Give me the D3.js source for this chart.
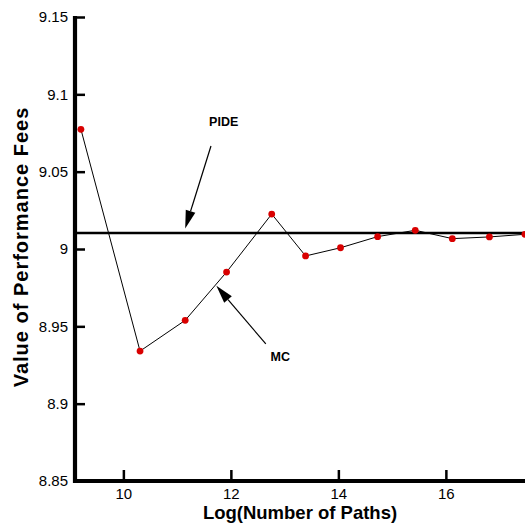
<!DOCTYPE html>
<html>
<head>
<meta charset="utf-8">
<script src="https://cdn.jsdelivr.net/npm/d3@7"></script>
<style>
  html, body { margin: 0; padding: 0; background: #fff; }
  svg { display: block; font-family: "Liberation Sans", Arial, sans-serif; }
</style>
</head>
<body>
<svg id="chart" width="525" height="529"></svg>
<script>
// Monte Carlo estimates against log of the number of simulated paths
const logPaths = [9.21, 10.31, 11.15, 11.92, 12.76, 13.39, 14.04, 14.73, 15.43, 16.12, 16.81, 17.47];
const mcValues = [9.0774, 8.9340, 8.9539, 8.9851, 9.0226, 8.9955, 9.0008, 9.0080, 9.0121, 9.0067, 9.0078, 9.0095];
// PIDE reference value
const pideValue = 9.0103;

const xTicks = [10, 12, 14, 16];
const yTicks = [8.85, 8.9, 8.95, 9, 9.05, 9.1, 9.15];
const yTickLabels = ["8.85", "8.9", "8.95", "9", "9.05", "9.1", "9.15"];

const svg = d3.select("#chart");

const x = d3.scaleLinear().domain([9.1, 17.5]).range([75, 526.5]);
const y = d3.scaleLinear().domain([8.85, 9.15]).range([481, 17]);

// PIDE horizontal line
svg.append("line")
  .attr("x1", x(9.1)).attr("x2", x(17.5))
  .attr("y1", y(pideValue)).attr("y2", y(pideValue))
  .attr("stroke", "#000").attr("stroke-width", 2.6);

// MC line and markers
const line = d3.line().x((d, i) => x(logPaths[i])).y(d => y(d));
svg.append("path")
  .datum(mcValues)
  .attr("d", line)
  .attr("fill", "none")
  .attr("stroke", "#000")
  .attr("stroke-width", 1);

svg.selectAll("circle.pt")
  .data(mcValues)
  .enter().append("circle")
  .attr("class", "pt")
  .attr("cx", (d, i) => x(logPaths[i]))
  .attr("cy", d => y(d))
  .attr("r", 3.4)
  .attr("fill", "#d90000");

// Axes
const xAxis = d3.axisBottom(x).tickValues(xTicks).tickSize(-11).tickPadding(7)
  .tickFormat(d3.format("d"));
const gx = svg.append("g").attr("transform", `translate(0,${y(8.85)})`).call(xAxis);
gx.select(".domain").remove();
gx.selectAll(".tick line").attr("stroke", "#000").attr("stroke-width", 2.5);
gx.selectAll(".tick text").attr("font-size", 15).attr("fill", "#000")
  .attr("font-family", "Liberation Sans, Arial, sans-serif");

const yAxis = d3.axisLeft(y).tickValues(yTicks).tickSize(-10).tickPadding(7)
  .tickFormat((d, i) => yTickLabels[i]);
const gy = svg.append("g").attr("transform", `translate(${x(9.1)},0)`).call(yAxis);
gy.select(".domain").remove();
gy.selectAll(".tick line").attr("stroke", "#000").attr("stroke-width", 2.5);
gy.selectAll(".tick text").attr("font-size", 15).attr("fill", "#000")
  .attr("font-family", "Liberation Sans, Arial, sans-serif");

// Thick axis frame lines
svg.append("line")
  .attr("x1", x(9.1)).attr("x2", x(9.1))
  .attr("y1", y(9.15) - 1).attr("y2", y(8.85) + 2)
  .attr("stroke", "#000").attr("stroke-width", 4.2);
svg.append("line")
  .attr("x1", x(9.1) - 2).attr("x2", 525)
  .attr("y1", y(8.85)).attr("y2", y(8.85))
  .attr("stroke", "#000").attr("stroke-width", 4.2);

// Axis titles
svg.append("text")
  .attr("x", 300).attr("y", 518.5)
  .attr("text-anchor", "middle")
  .attr("font-size", 18.5).attr("font-weight", "bold")
  .text("Log(Number of Paths)");

svg.append("text")
  .attr("transform", "translate(27.5,247) rotate(-90)")
  .attr("text-anchor", "middle")
  .attr("font-size", 20).attr("font-weight", "bold")
  .attr("letter-spacing", 1)
  .text("Value of Performance Fees");

// Annotations with arrows
function arrow(x1, y1, x2, y2) {
  const ang = Math.atan2(y2 - y1, x2 - x1);
  const len = 18, half = 5;
  const bx = x2 - len * Math.cos(ang), by = y2 - len * Math.sin(ang);
  svg.append("line")
    .attr("x1", x1).attr("y1", y1).attr("x2", bx).attr("y2", by)
    .attr("stroke", "#000").attr("stroke-width", 1.2);
  const px = -Math.sin(ang) * half, py = Math.cos(ang) * half;
  svg.append("path")
    .attr("d", `M${x2},${y2}L${bx + px},${by + py}L${bx - px},${by - py}Z`)
    .attr("fill", "#000");
}

svg.append("text")
  .attr("x", x(11.866)).attr("y", y(9.0795))
  .attr("text-anchor", "middle")
  .attr("font-size", 12.5).attr("font-weight", "bold")
  .text("PIDE");
arrow(x(11.63), y(9.0666), x(11.15), y(9.0133));

svg.append("text")
  .attr("x", x(12.92)).attr("y", y(8.9276))
  .attr("text-anchor", "middle")
  .attr("font-size", 12.5).attr("font-weight", "bold")
  .text("MC");
arrow(x(12.65), y(8.9386), x(11.73), y(8.9762));
</script>
</body>
</html>
